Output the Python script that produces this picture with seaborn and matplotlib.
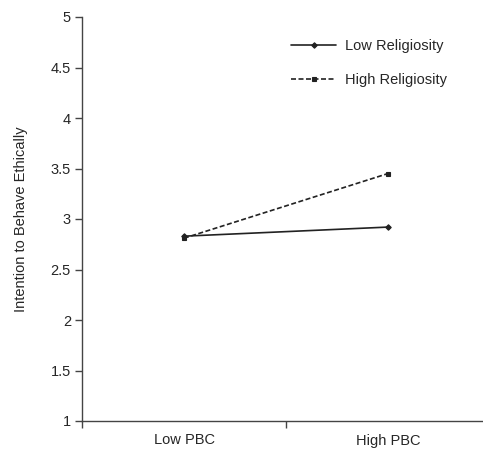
import numpy as np
import pandas as pd
import matplotlib
matplotlib.use("Agg")
import matplotlib.pyplot as plt
import seaborn as sns

sns.set_style("ticks")
plt.rcParams['font.family'] = ['Liberation Sans', 'DejaVu Sans']

# data
pbc_levels = ["Low PBC", "High PBC"]
low_religiosity = [2.83, 2.92]
high_religiosity = [2.81, 3.45]
y_ticks = [1, 1.5, 2, 2.5, 3, 3.5, 4, 4.5, 5]

df = pd.DataFrame({
    "pbc": pbc_levels * 2,
    "x": [0, 1] * 2,
    "value": low_religiosity + high_religiosity,
    "group": ["Low Religiosity"] * 2 + ["High Religiosity"] * 2,
})

fig = plt.figure(figsize=(4.83, 4.54), dpi=100)
ax = fig.add_axes([82 / 483, 33 / 454, 408 / 483, 404 / 454])

sns.lineplot(data=df, x="x", y="value", hue="group", style="group",
             hue_order=["Low Religiosity", "High Religiosity"],
             palette=["#222222", "#222222"],
             dashes={"Low Religiosity": "", "High Religiosity": (3, 1.5)},
             markers={"Low Religiosity": "D", "High Religiosity": "s"},
             markersize=2.8, markeredgecolor="#222222", markeredgewidth=0.8,
             linewidth=1.2, ax=ax, legend=True)

ax.set_xlim(-0.5, 1.5)
ax.set_ylim(1, 5)
ax.set_yticks(y_ticks)
ax.set_yticklabels([f"{t:g}" for t in y_ticks])
ax.set_xticks([-0.5, 0.5, 1.5])
ax.set_xticklabels([])
ax.set_xticks([0, 1], minor=True)
ax.set_xticklabels(pbc_levels, minor=True)
ax.tick_params(axis="x", which="minor", bottom=False, length=0, pad=9, labelsize=10.5)
ax.tick_params(axis="x", which="major", bottom=True, length=5, direction="out",
               color="#444444", width=1.0)
ax.tick_params(axis="y", which="major", left=True, length=5, direction="out",
               color="#444444", width=1.0, labelsize=10.5, pad=3)
ax.set_xlabel("")
ax.set_ylabel("Intention to Behave Ethically", fontsize=10.5, labelpad=16)

for s in ["top", "right"]:
    ax.spines[s].set_visible(False)
for s in ["left", "bottom"]:
    ax.spines[s].set_color("#444444")
    ax.spines[s].set_linewidth(1.0)

leg = ax.legend(loc="upper left", bbox_to_anchor=(0.48, 0.977), frameon=False,
                fontsize=10.5, handlelength=3.1, handletextpad=0.6, labelspacing=1.35)

fig.savefig("out.png", dpi=100)
